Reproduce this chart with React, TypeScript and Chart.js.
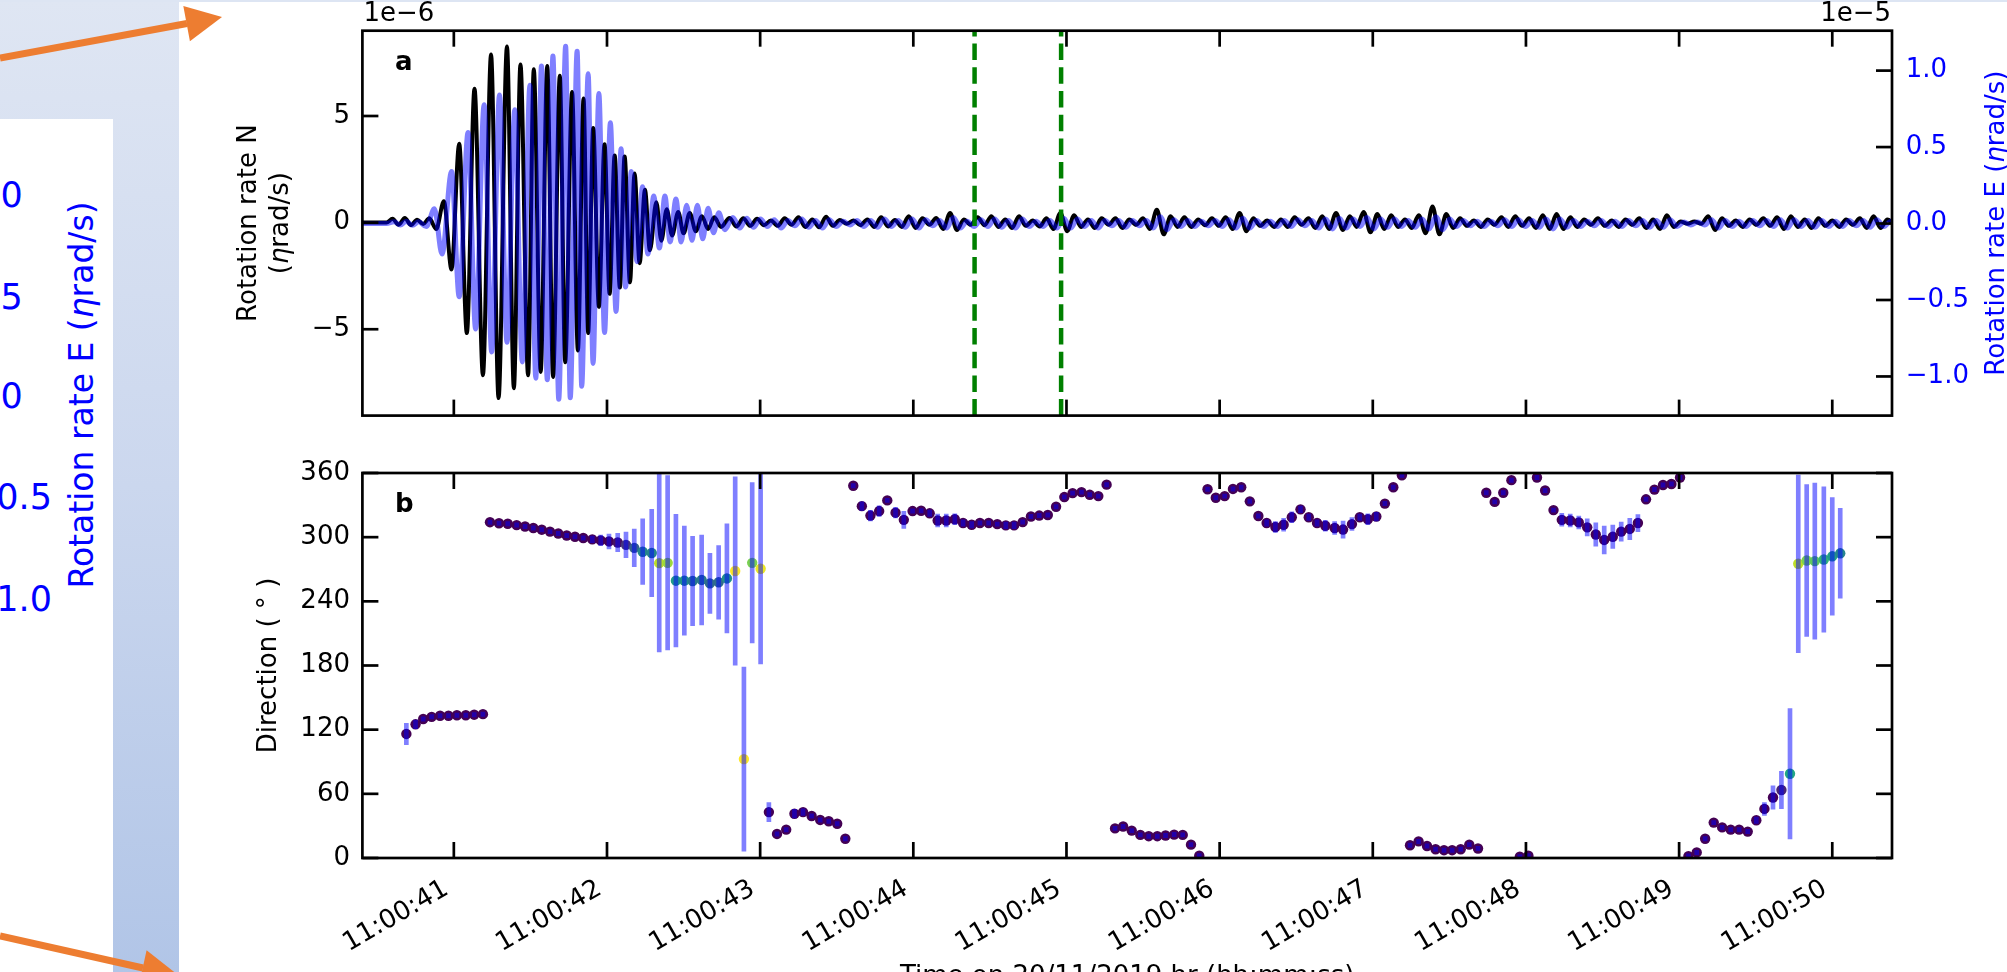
import React, { useEffect, useRef } from 'react';
import { Chart, registerables } from 'chart.js';

Chart.register(...registerables);

const FONT = '"DejaVu Sans", "Liberation Sans", sans-serif';

// ---------------- data ----------------
const TIME_MIN = 40.403;
const TIME_MAX = 50.39;
const TIME_TICKS = [41, 42, 43, 44, 45, 46, 47, 48, 49, 50];
const N_RANGE = [-9.05, 9.0];
const E_RANGE = [-1.256, 1.261];
const N_TICKS = [-5, 0, 5];
const E_TICKS = [-1.0, -0.5, 0.0, 0.5, 1.0];
const DIR_TICKS = [0, 60, 120, 180, 240, 300, 360];
const MARKER_TIMES = [44.4, 44.965];
const X_TITLE = 'Time on 20/11/2019 hr (hh:mm:ss)';

// Rotation rate N (x1e-6), extrema of the main packet [time s after 11:00:00, value]
const N_PACKET: [number, number][] = [
  [40.4, 0], [40.56, 0], [40.6, 0.18], [40.64, -0.1], [40.68, 0.22], [40.72, -0.12], [40.76, 0.14], [40.8, -0.06],
  [40.84, 0.2], [40.885, -0.3], [40.935, 1.0], [40.985, -2.2], [41.035, 3.7], [41.085, -5.18], [41.135, 6.28],
  [41.19, -7.16], [41.243, 7.88], [41.292, -8.23], [41.347, 8.26], [41.392, -7.77], [41.435, 7.42], [41.485, -7.16],
  [41.522, 7.19], [41.567, -7.0], [41.61, 7.34], [41.648, -7.24], [41.692, 6.89], [41.727, -6.55], [41.772, 6.12],
  [41.81, -6.0], [41.847, 5.82], [41.877, -5.18], [41.91, 4.44], [41.947, -3.95], [41.984, 3.68], [42.017, -3.34],
  [42.05, 3.15], [42.084, -3.04], [42.115, 3.1], [42.15, -2.8], [42.18, 2.3], [42.213, -1.9], [42.248, 1.54],
  [42.28, -1.3], [42.322, 0.95], [42.355, -0.85], [42.39, 0.63], [42.425, -0.6], [42.465, 0.5], [42.5, -0.5],
  [42.54, 0.45], [42.58, -0.4], [42.62, 0.3], [42.66, -0.3], [42.7, 0.25], [42.745, -0.2],
];
// coda of N: one extremum every N_TAIL_STEP seconds
const N_TAIL_START = 42.8;
const N_TAIL_STEP = 0.045;
const N_TAIL = [
  0.22, -0.18, 0.2, -0.15, 0.18, -0.12, 0.1, -0.15, 0.2, -0.1,
  0.25, -0.2, 0.15, -0.22, 0.28, -0.15, 0.12, -0.05, 0.1, -0.12,
  0.15, -0.2, 0.25, -0.18, 0.12, -0.2, 0.3, -0.25, 0.2, -0.1,
  0.22, -0.3, 0.45, -0.35, 0.15, -0.1, 0.25, -0.12, 0.3, -0.2,
  0.15, -0.25, 0.3, -0.15, 0.1, -0.18, 0.2, -0.3, 0.45, -0.4,
  0.35, -0.2, 0.15, -0.25, 0.2, -0.1, 0.2, -0.25, 0.15, -0.1,
  0.2, -0.3, 0.6, -0.55, 0.3, -0.2, 0.25, -0.2, 0.15, -0.12,
  0.2, -0.15, 0.25, -0.3, 0.45, -0.4, 0.2, -0.15, 0.1, -0.2,
  0.15, -0.2, 0.25, -0.1, 0.2, -0.25, 0.3, -0.3, 0.45, -0.35,
  0.3, -0.2, 0.5, -0.45, 0.4, -0.3, 0.35, -0.2, 0.15, -0.25,
  0.35, -0.5, 0.75, -0.55, 0.4, -0.25, 0.2, -0.15, 0.1, -0.2,
  0.15, -0.1, 0.25, -0.2, 0.3, -0.15, 0.2, -0.25, 0.35, -0.3,
  0.4, -0.3, 0.25, -0.2, 0.15, -0.1, 0.2, -0.15, 0.1, -0.2,
  0.15, -0.1, 0.2, -0.25, 0.15, -0.3, 0.35, -0.2, 0.05, -0.05,
  0.05, -0.05, 0.3, -0.35, 0.2, -0.15, 0.1, -0.2, 0.15, -0.1,
  0.2, -0.15, 0.25, -0.3, 0.3, -0.2, 0.15, -0.25, 0.2, -0.15,
  0.1, -0.2, 0.15, -0.1, 0.2, -0.25, 0.3, -0.25, 0.15, -0.1,
];

// Rotation rate E (x1e-5)
const E_PACKET: [number, number][] = [
  [40.4, 0], [40.56, 0], [40.61, 0.012], [40.65, -0.01], [40.69, 0.015], [40.73, -0.012], [40.77, 0.012],
  [40.82, -0.02], [40.873, 0.096], [40.923, -0.2], [40.985, 0.34], [41.035, -0.479], [41.093, 0.596],
  [41.142, -0.69], [41.198, 0.776], [41.247, -0.84], [41.298, 0.84], [41.347, -0.777], [41.398, 0.744],
  [41.447, -0.905], [41.497, 0.904], [41.535, -1.011], [41.572, 1.03], [41.61, -1.021], [41.647, 1.095],
  [41.685, -1.149], [41.73, 1.16], [41.76, -1.139], [41.805, 1.127], [41.835, -1.064], [41.877, 0.979],
  [41.909, -0.915], [41.947, 0.851], [41.984, -0.713], [42.022, 0.659], [42.059, -0.575], [42.092, 0.489],
  [42.121, -0.415], [42.159, 0.34], [42.196, -0.25], [42.232, 0.24], [42.267, -0.2], [42.305, 0.18],
  [42.342, -0.16], [42.378, 0.18], [42.412, -0.12], [42.45, 0.16], [42.484, -0.12], [42.52, 0.12],
  [42.555, -0.11], [42.59, 0.12], [42.625, -0.1], [42.66, 0.1], [42.696, -0.06], [42.73, 0.07], [42.77, -0.04],
];
const E_TAIL_START = 42.822;
const E_TAIL_STEP = 0.045;
const E_TAIL = [
  0.04, -0.03, 0.035, -0.025, 0.03, -0.02, 0.025, -0.03, 0.02, -0.015,
  0.03, -0.025, 0.02, -0.03, 0.025, -0.02, 0.015, -0.01, 0.02, -0.02,
  0.02, -0.025, 0.03, -0.02, 0.02, -0.025, 0.03, -0.03, 0.025, -0.015,
  0.02, -0.03, 0.04, -0.03, 0.015, -0.02, 0.025, -0.02, 0.03, -0.025,
  0.02, -0.03, 0.03, -0.02, 0.015, -0.02, 0.02, -0.03, 0.035, -0.03,
  0.03, -0.02, 0.02, -0.03, 0.02, -0.015, 0.02, -0.025, 0.02, -0.015,
  0.02, -0.03, 0.045, -0.04, 0.025, -0.02, 0.02, -0.02, 0.015, -0.015,
  0.02, -0.02, 0.025, -0.03, 0.035, -0.03, 0.02, -0.02, 0.015, -0.02,
  0.02, -0.02, 0.025, -0.015, 0.02, -0.03, 0.03, -0.035, 0.035, -0.03,
  0.03, -0.02, 0.04, -0.035, 0.03, -0.025, 0.03, -0.02, 0.02, -0.025,
  0.03, -0.035, 0.045, -0.04, 0.03, -0.02, 0.02, -0.015, 0.015, -0.02,
  0.015, -0.015, 0.025, -0.02, 0.025, -0.02, 0.02, -0.025, 0.03, -0.035,
  0.03, -0.025, 0.02, -0.02, 0.015, -0.015, 0.02, -0.02, 0.015, -0.02,
  0.02, -0.015, 0.02, -0.025, 0.02, -0.025, 0.025, -0.02, 0.01, -0.01,
  0.01, -0.01, 0.025, -0.03, 0.02, -0.02, 0.015, -0.02, 0.02, -0.015,
  0.02, -0.02, 0.025, -0.03, 0.025, -0.02, 0.02, -0.025, 0.02, -0.02,
  0.015, -0.02, 0.02, -0.015, 0.02, -0.025, 0.025, -0.02, 0.015, -0.01,
];

// Panel b: direction estimates
const DIR_TIMES = [
  40.69, 40.75, 40.8, 40.855, 40.91, 40.965, 41.02, 41.078, 41.133, 41.19,
  41.236, 41.295, 41.352, 41.41, 41.465, 41.519, 41.574, 41.628, 41.682, 41.737,
  41.791, 41.845, 41.904, 41.959, 42.013, 42.07, 42.124, 42.178, 42.233, 42.292,
  42.341, 42.396, 42.45, 42.505, 42.559, 42.618, 42.672, 42.729, 42.783, 42.837,
  42.894, 42.948, 43.003, 43.057, 43.11, 43.17, 43.224, 43.28, 43.336, 43.392,
  43.448, 43.503, 43.556, 43.608, 43.664, 43.72, 43.777, 43.83, 43.884, 43.938,
  43.995, 44.051, 44.107, 44.159, 44.215, 44.271, 44.325, 44.381, 44.435, 44.492,
  44.548, 44.604, 44.658, 44.714, 44.768, 44.822, 44.878, 44.932, 44.986, 45.04,
  45.098, 45.152, 45.208, 45.262, 45.317, 45.37, 45.426, 45.482, 45.537, 45.593,
  45.647, 45.703, 45.759, 45.813, 45.867, 45.921, 45.975, 46.033, 46.087, 46.141,
  46.197, 46.253, 46.307, 46.364, 46.418, 46.471, 46.528, 46.582, 46.636, 46.69,
  46.751, 46.806, 46.864, 46.915, 46.968, 47.023, 47.079, 47.134, 47.19, 47.243,
  47.299, 47.354, 47.41, 47.465, 47.518, 47.574, 47.63, 47.687, 47.741, 47.796,
  47.852, 47.905, 47.96, 48.016, 48.072, 48.125, 48.18, 48.234, 48.289, 48.345,
  48.4, 48.456, 48.511, 48.567, 48.622, 48.678, 48.731, 48.784, 48.839, 48.895,
  48.95, 49.006, 49.061, 49.115, 49.17, 49.226, 49.281, 49.337, 49.392, 49.448,
  49.504, 49.557, 49.613, 49.668, 49.724, 49.778, 49.833, 49.886, 49.945, 50.0,
  50.052,
];
const DIR_VALUES = [
  116, 125, 130, 132, 133, 133, 133.5, 133.5, 134, 134.5,
  314, 313, 312.5, 311.3, 310, 308.6, 307, 305.2, 303.4, 301.6,
  300.4, 299.2, 297.9, 297, 296, 295, 292.8, 290, 286.4, 285.2,
  275.7, 276, 259.3, 259.3, 259, 260, 256.8, 257.8, 261.4, 268.4,
  92.5, 276, 270.5, 42.9, 22.5, 26.5, 41.4, 42.9, 39.3, 35.6,
  34.4, 32, 18, 348.1, 329, 320.2, 324.4, 334.4, 322.9, 316.2,
  324.4, 324.7, 322.3, 315.6, 315.6, 316.8, 313.2, 311.6, 313.2, 313.2,
  312.2, 311, 311, 314.1, 319.3, 320.2, 320.7, 328.4, 337.5, 341.2,
  342.1, 339.6, 338.4, 349.1, 27.7, 29.5, 25.6, 21.6, 20.4, 20.4,
  21, 21.9, 21.6, 12.5, 2.1, 344.8, 336.9, 338.4, 345.1, 346.7,
  333.5, 319.8, 313.2, 309.5, 311.6, 318.6, 326, 318.6, 313.2, 310.7,
  308.6, 307.1, 312.2, 318.6, 316.8, 319.3, 331.4, 346.7, 357.9, 11.9,
  15.5, 11.2, 8.2, 7.3, 7.3, 8.2, 12.5, 8.9, 341.5, 333,
  341.5, 353.3, 1.2, 2.1, 355.8, 343.6, 325.3, 316.2, 315.6, 313.8,
  309.2, 302.5, 297.4, 300.4, 305.2, 307.7, 313.2, 335.4, 344.5, 348.8,
  349.7, 355.8, 1.8, 5.2, 18, 33.1, 28.6, 26.5, 26.5, 24.7,
  35.3, 45.9, 56.6, 63.6, 78.8, 275.1, 278.2, 277.6, 279.1, 282.1,
  284.9,
];
const DIR_ERRORS = [
  10, 4, 2, 2, 2, 2, 2, 2, 2, 2,
  2, 2, 2, 2, 2, 2, 2, 2, 2, 2,
  2, 2, 3, 5, 7, 8.5, 12, 17.6, 30.7, 40.8,
  83, 81.5, 62, 51, 41.7, 42, 28, 34.4, 51, 88,
  86, 75, 89, 9, 2, 2, 4, 3, 2, 2,
  2, 2, 2, 2, 4, 5, 5, 2, 5, 8,
  2, 2, 3, 6, 6, 5, 3, 3, 2, 2,
  2, 3, 3, 2, 2, 2, 2, 2, 2, 2,
  2, 2, 2, 2, 2, 2, 2, 2, 2, 2,
  2, 2, 2, 2, 2, 2, 2, 2, 2, 2,
  2, 2, 3, 5, 6, 5, 3, 3, 3, 5,
  6, 8, 6, 3, 5, 4, 2, 2, 2, 2,
  2, 2, 2, 2, 2, 2, 2, 2, 2, 2,
  2, 2, 2, 2, 2, 2, 2, 6, 6, 6,
  8, 11, 13, 11, 9, 10, 8, 2, 2, 2,
  2, 2, 2, 2, 2, 2, 2, 2, 2, 2,
  3, 6, 11, 17.5, 61, 83, 71, 73, 68, 55,
  42,
];
// colour value of each estimate (0 = dark purple … 1 = yellow)
const DIR_QUALITY = [
  0, 0, 0, 0, 0, 0, 0, 0, 0, 0,
  0, 0, 0, 0, 0, 0, 0, 0, 0, 0,
  0, 0, 0, 0, 0, 0.05, 0.15, 0.3, 0.45, 0.45,
  0.9, 0.85, 0.55, 0.5, 0.4, 0.4, 0.35, 0.35, 0.5, 1.0,
  1.0, 0.8, 0.97, 0, 0, 0, 0, 0, 0, 0,
  0, 0, 0, 0, 0, 0, 0, 0, 0, 0,
  0, 0, 0, 0, 0, 0, 0, 0, 0, 0,
  0, 0, 0, 0, 0, 0, 0, 0, 0, 0,
  0, 0, 0, 0, 0, 0, 0, 0, 0, 0,
  0, 0, 0, 0, 0, 0, 0, 0, 0, 0,
  0, 0, 0, 0, 0, 0, 0, 0, 0, 0,
  0, 0, 0, 0, 0, 0, 0, 0, 0, 0,
  0, 0, 0, 0, 0, 0, 0, 0, 0, 0,
  0, 0, 0, 0, 0, 0, 0, 0, 0, 0,
  0, 0, 0, 0, 0, 0, 0, 0, 0, 0,
  0, 0, 0, 0, 0, 0, 0, 0, 0, 0,
  0, 0, 0, 0.1, 0.6, 0.9, 0.8, 0.75, 0.65, 0.55,
  0.45,
];

// left-hand fragment of the slide
const FRAG_TICKS = ['1.0', '0.5', '0.0', '\u22120.5', '\u22121.0'];

// ---------------- styling helpers ----------------
const VIRIDIS: [number, number, number][] = [
  [68, 1, 84], [72, 36, 117], [65, 68, 135], [53, 95, 141], [42, 120, 142], [33, 145, 140],
  [34, 168, 132], [68, 191, 112], [122, 209, 81], [189, 223, 38], [253, 231, 37],
];
function viridis(q: number): string {
  const t = Math.max(0, Math.min(1, q)) * (VIRIDIS.length - 1);
  const i = Math.min(VIRIDIS.length - 2, Math.floor(t));
  const f = t - i;
  const a = VIRIDIS[i], b = VIRIDIS[i + 1];
  const c = a.map((v, k) => Math.round(v + (b[k] - v) * f));
  return `rgb(${c[0]},${c[1]},${c[2]})`;
}
const minus = (s: string) => s.replace('-', '\u2212');
const timeLabel = (v: number) => '11:00:' + String(v).padStart(2, '0');

function line(ctx: CanvasRenderingContext2D, x1: number, y1: number, x2: number, y2: number) {
  ctx.beginPath();
  ctx.moveTo(x1, y1);
  ctx.lineTo(x2, y2);
  ctx.stroke();
}
type Part = { text: string; font: string };
function rotatedText(ctx: CanvasRenderingContext2D, parts: Part[], x: number, y: number, color: string) {
  ctx.save();
  ctx.translate(x, y);
  ctx.rotate(-Math.PI / 2);
  ctx.fillStyle = color;
  ctx.textAlign = 'left';
  ctx.textBaseline = 'alphabetic';
  let total = 0;
  for (const p of parts) {
    ctx.font = p.font;
    total += ctx.measureText(p.text).width;
  }
  let cx = -total / 2;
  for (const p of parts) {
    ctx.font = p.font;
    ctx.fillText(p.text, cx, 0);
    cx += ctx.measureText(p.text).width;
  }
  ctx.restore();
}

const F26 = `26px ${FONT}`;
const F26I = `italic 26px ${FONT}`;
const F26B = `bold 26px ${FONT}`;
const TICK_LEN = 16;
const LW = 2.7;

const topPlugin = {
  id: 'topDecor',
  afterDraw(chart: any) {
    const { ctx, chartArea: a, scales } = chart;
    ctx.save();
    ctx.strokeStyle = '#000';
    ctx.lineWidth = LW;
    ctx.lineCap = 'butt';
    for (const v of TIME_TICKS) {
      const x = scales.x.getPixelForValue(v);
      line(ctx, x, a.top, x, a.top + TICK_LEN);
      line(ctx, x, a.bottom, x, a.bottom - TICK_LEN);
    }
    for (const v of N_TICKS) {
      const y = scales.y.getPixelForValue(v);
      line(ctx, a.left, y, a.left + TICK_LEN, y);
    }
    for (const v of E_TICKS) {
      const y = scales.y2.getPixelForValue(v);
      line(ctx, a.right, y, a.right - TICK_LEN, y);
    }
    ctx.strokeRect(a.left, a.top, a.right - a.left, a.bottom - a.top);

    ctx.fillStyle = '#000';
    ctx.font = F26;
    ctx.textBaseline = 'alphabetic';
    ctx.textAlign = 'left';
    ctx.fillText('1e\u22126', a.left + 1, a.top - 10);
    ctx.textAlign = 'right';
    ctx.fillText('1e\u22125', a.right - 1, a.top - 10);
    ctx.textAlign = 'left';
    ctx.font = F26B;
    ctx.fillText('a', a.left + 32.6, a.top + 39.3);

    const cy = (a.top + a.bottom) / 2;
    rotatedText(ctx, [{ text: 'Rotation rate N', font: F26 }], a.left - 106.4, cy, '#000');
    rotatedText(ctx, [
      { text: '(', font: F26 }, { text: '\u03b7', font: F26I }, { text: 'rad/s)', font: F26 },
    ], a.left - 74.8, cy, '#000');
    rotatedText(ctx, [
      { text: 'Rotation rate E (', font: F26 }, { text: '\u03b7', font: F26I }, { text: 'rad/s)', font: F26 },
    ], a.right + 112, cy, '#0000ff');
    ctx.restore();
  },
};

const bottomPlugin = {
  id: 'bottomDecor',
  afterDraw(chart: any) {
    const { ctx, chartArea: a, scales } = chart;
    ctx.save();
    ctx.strokeStyle = '#000';
    ctx.lineWidth = LW;
    for (const v of TIME_TICKS) {
      const x = scales.x.getPixelForValue(v);
      line(ctx, x, a.top, x, a.top + TICK_LEN);
      line(ctx, x, a.bottom, x, a.bottom - TICK_LEN);
    }
    for (const v of DIR_TICKS) {
      const y = scales.y.getPixelForValue(v);
      line(ctx, a.left, y, a.left + TICK_LEN, y);
      line(ctx, a.right, y, a.right - TICK_LEN, y);
    }
    ctx.strokeRect(a.left, a.top, a.right - a.left, a.bottom - a.top);

    ctx.fillStyle = '#000';
    ctx.font = F26;
    ctx.textAlign = 'right';
    ctx.textBaseline = 'alphabetic';
    for (const v of TIME_TICKS) {
      const x = scales.x.getPixelForValue(v);
      ctx.save();
      ctx.translate(x - 4, a.bottom + 35);
      ctx.rotate(-Math.PI / 6);
      ctx.fillText(timeLabel(v), 0, 0);
      ctx.restore();
    }
    ctx.textAlign = 'center';
    ctx.fillText(X_TITLE, (a.left + a.right) / 2, a.bottom + 126);

    ctx.textAlign = 'left';
    ctx.font = F26B;
    ctx.fillText('b', a.left + 32.6, a.top + 39.3);

    rotatedText(ctx, [{ text: 'Direction ( \u00b0 )', font: F26 }], a.left - 86.8, (a.top + a.bottom) / 2, '#000');
    ctx.restore();
  },
};

const TOP_W = 1828;
const TOP_H = 445;
const BOT_H = 527;

function TopPanel() {
  const ref = useRef<HTMLCanvasElement | null>(null);
  useEffect(() => {
    if (!ref.current) return;
    const nData = [
      ...N_PACKET.map(([x, y]) => ({ x, y })),
      ...N_TAIL.map((y, i) => ({ x: N_TAIL_START + i * N_TAIL_STEP, y })),
    ];
    const eData = [
      ...E_PACKET.map(([x, y]) => ({ x, y })),
      ...E_TAIL.map((y, i) => ({ x: E_TAIL_START + i * E_TAIL_STEP, y })),
    ];
    const markers = MARKER_TIMES.map((t) => ({
      type: 'line',
      data: [{ x: t, y: N_RANGE[0] }, { x: t, y: N_RANGE[1] }],
      borderColor: '#008000',
      borderWidth: 4.5,
      borderDash: [16.5, 7.2],
      pointRadius: 0,
      tension: 0,
      yAxisID: 'y',
      order: 1,
      clip: 0,
    }));
    const chart = new Chart(ref.current, {
      type: 'line',
      data: {
        datasets: [
          {
            data: nData,
            borderColor: '#000000',
            borderWidth: 4,
            pointRadius: 0,
            cubicInterpolationMode: 'monotone',
            borderJoinStyle: 'round',
            borderCapStyle: 'round',
            yAxisID: 'y',
            order: 3,
            clip: 0,
          },
          {
            data: eData,
            borderColor: 'rgba(0,0,255,0.5)',
            borderWidth: 5,
            pointRadius: 0,
            cubicInterpolationMode: 'monotone',
            borderJoinStyle: 'round',
            borderCapStyle: 'round',
            yAxisID: 'y2',
            order: 2,
            clip: 0,
          },
          ...markers,
        ] as any,
      },
      options: {
        responsive: false,
        devicePixelRatio: 1,
        animation: false,
        events: [],
        layout: { autoPadding: false, padding: { left: 0, right: 0, top: 30.7, bottom: 20 } },
        plugins: { legend: { display: false }, tooltip: { enabled: false } },
        scales: {
          x: { type: 'linear', display: false, min: TIME_MIN, max: TIME_MAX },
          y: {
            type: 'linear',
            position: 'left',
            min: N_RANGE[0],
            max: N_RANGE[1],
            grid: { display: false, drawTicks: false },
            border: { display: false },
            ticks: {
              font: { family: FONT, size: 26 },
              color: '#000',
              padding: 12.4,
              callback: (v: any) => minus(String(v)),
            },
            afterBuildTicks: (s: any) => { s.ticks = N_TICKS.map((value) => ({ value })); },
            afterFit: (s: any) => { s.width = 183.4; },
          },
          y2: {
            type: 'linear',
            position: 'right',
            min: E_RANGE[0],
            max: E_RANGE[1],
            grid: { display: false, drawTicks: false },
            border: { display: false },
            ticks: {
              font: { family: FONT, size: 26 },
              color: '#0000ff',
              padding: 13.8,
              callback: (v: any) => minus(Number(v).toFixed(1)),
            },
            afterBuildTicks: (s: any) => { s.ticks = E_TICKS.map((value) => ({ value })); },
            afterFit: (s: any) => { s.width = 115; },
          },
        },
      } as any,
      plugins: [topPlugin],
    });
    return () => chart.destroy();
  }, []);
  return (
    <canvas
      ref={ref}
      width={TOP_W}
      height={TOP_H}
      style={{ position: 'absolute', left: 179, top: 0, width: TOP_W, height: TOP_H }}
    />
  );
}

function BottomPanel() {
  const ref = useRef<HTMLCanvasElement | null>(null);
  useEffect(() => {
    if (!ref.current) return;
    const points = DIR_TIMES.map((x, i) => ({ x, y: DIR_VALUES[i] }));
    const bars = DIR_TIMES.map((x, i) => ({ x, y: [DIR_VALUES[i] - DIR_ERRORS[i], DIR_VALUES[i] + DIR_ERRORS[i]] }));
    const colors = DIR_QUALITY.map(viridis);
    const chart = new Chart(ref.current, {
      type: 'scatter',
      data: {
        datasets: [
          {
            type: 'scatter',
            data: points,
            pointRadius: 5.2,
            pointBackgroundColor: colors,
            pointBorderWidth: 0,
            pointBorderColor: 'rgba(0,0,0,0)',
            order: 2,
            clip: 0,
          },
          {
            type: 'bar',
            data: bars,
            backgroundColor: 'rgba(0,0,255,0.5)',
            borderWidth: 0,
            barThickness: 4,
            grouped: false,
            order: 1,
            clip: 0,
          },
        ] as any,
      },
      options: {
        responsive: false,
        devicePixelRatio: 1,
        animation: false,
        events: [],
        layout: { autoPadding: false, padding: { left: 0, right: 115, top: 18.7, bottom: 114 } },
        plugins: { legend: { display: false }, tooltip: { enabled: false } },
        scales: {
          x: { type: 'linear', display: false, min: TIME_MIN, max: TIME_MAX, offset: false },
          y: {
            type: 'linear',
            position: 'left',
            min: 0,
            max: 360,
            grid: { display: false, drawTicks: false },
            border: { display: false },
            ticks: {
              font: { family: FONT, size: 26 },
              color: '#000',
              padding: 12.4,
              callback: (v: any) => String(v),
            },
            afterBuildTicks: (s: any) => { s.ticks = DIR_TICKS.map((value) => ({ value })); },
            afterFit: (s: any) => { s.width = 183.4; },
          },
        },
      } as any,
      plugins: [bottomPlugin],
    });
    return () => chart.destroy();
  }, []);
  return (
    <canvas
      ref={ref}
      width={TOP_W}
      height={BOT_H}
      style={{ position: 'absolute', left: 179, top: TOP_H, width: TOP_W, height: BOT_H }}
    />
  );
}

export default function App() {
  useEffect(() => {
    document.body.style.margin = '0';
    document.body.style.overflow = 'hidden';
  }, []);
  const ORANGE = '#ED7D31';
  const fragCenters = [194, 296, 395.5, 496, 598];
  return (
    <div style={{ position: 'absolute', left: 0, top: 0, width: 2007, height: 972, overflow: 'hidden', background: '#fff' }}>
      <div
        style={{
          position: 'absolute', left: 0, top: 0, width: 179, height: 972,
          background: 'linear-gradient(to bottom, #dfe6f3 0%, #cbd7ee 50%, #b1c5e7 100%)',
        }}
      />
      <div style={{ position: 'absolute', left: 0, top: 0, width: 2007, height: 2, background: '#dde5f3' }} />
      <div style={{ position: 'absolute', left: 0, top: 119, width: 113, height: 853, background: '#fff' }} />
      <svg width={113} height={853} style={{ position: 'absolute', left: 0, top: 119 }}>
        {FRAG_TICKS.map((t, i) => (
          <text key={t} x={-33} y={fragCenters[i] - 119 + 12.8} fontSize={35} fill="#0000ff" fontFamily={FONT}>
            {t}
          </text>
        ))}
        <text
          transform={`translate(92.5 ${395 - 119}) rotate(-90)`}
          textAnchor="middle"
          fontSize={33}
          fill="#0000ff"
          fontFamily={FONT}
        >
          Rotation rate E (<tspan fontStyle="italic">{'\u03b7'}</tspan>rad/s)
        </text>
      </svg>
      <TopPanel />
      <BottomPanel />
      <svg width={2007} height={972} style={{ position: 'absolute', left: 0, top: 0, pointerEvents: 'none' }}>
        <line x1={0} y1={58} x2={187} y2={23.5} stroke={ORANGE} strokeWidth={7} />
        <polygon points="222,17 189.9,41.3 183.3,5.9" fill={ORANGE} />
        <line x1={0} y1={936} x2={143} y2={968} stroke={ORANGE} strokeWidth={7} />
        <polygon points="178,975 138.9,985.4 146.6,950.2" fill={ORANGE} />
      </svg>
    </div>
  );
}
